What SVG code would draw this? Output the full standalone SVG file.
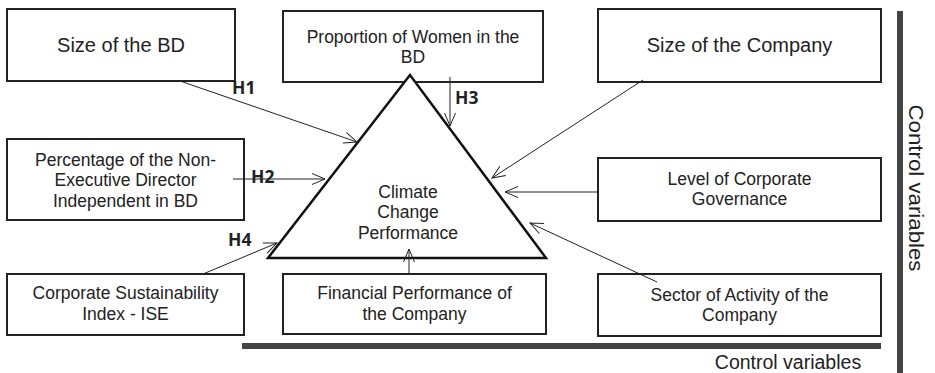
<svg xmlns="http://www.w3.org/2000/svg" width="935" height="373" viewBox="0 0 935 373">
<style>
.box{fill:#fff;stroke:#222;stroke-width:2}
.t{font-family:"Liberation Sans",Arial,sans-serif;font-size:17.5px;fill:#222;text-anchor:middle}
.big{font-size:20px}
.h{font-family:"Open Sans","Liberation Sans",sans-serif;font-weight:bold;font-size:17.5px;fill:#222}
.c{stroke:#222;stroke-width:1;fill:none}
</style>
<defs>
<marker id="a" markerUnits="userSpaceOnUse" markerWidth="16" markerHeight="14" viewBox="0 0 16 14" refX="14" refY="7" orient="auto">
<path d="M1,1.5 L14,7 L1,12.5" fill="none" stroke="#222" stroke-width="1"/>
</marker>
</defs>
<rect x="242" y="343" width="639" height="6" fill="#444"/>
<rect x="897" y="11" width="6" height="362" fill="#444"/>
<text class="t big" transform="translate(909,188) rotate(90)" textLength="167" lengthAdjust="spacingAndGlyphs">Control variables</text>
<text class="t" style="font-size:19.5px" x="788" y="369">Control variables</text>
<g id="n1"><rect class="box" x="7" y="9" width="228" height="72"/><text class="t big" x="121" y="52">Size of the BD</text></g>
<g id="n2"><rect class="box" x="283" y="11" width="260" height="71"/><text class="t" x="413" y="43">Proportion of Women in the</text><text class="t" x="413" y="63">BD</text></g>
<g id="n3"><rect class="box" x="598" y="9" width="283" height="73"/><text class="t big" x="739.5" y="52">Size of the Company</text></g>
<g id="n4"><rect class="box" x="7" y="139" width="237" height="81"/><text class="t" x="125.5" y="166">Percentage of the Non-</text><text class="t" x="125.5" y="186">Executive Director</text><text class="t" x="125.5" y="207">Independent in BD</text></g>
<g id="n5"><rect class="box" x="598" y="158" width="283" height="63"/><text class="t" x="739.5" y="185">Level of Corporate</text><text class="t" x="739.5" y="205">Governance</text></g>
<g id="n6"><rect class="box" x="7" y="274" width="237" height="61"/><text class="t" x="125.5" y="299">Corporate Sustainability</text><text class="t" x="125.5" y="320">Index - ISE</text></g>
<g id="n7"><rect class="box" x="283" y="274" width="263" height="60"/><text class="t" x="414.5" y="299">Financial Performance of</text><text class="t" x="414.5" y="320">the Company</text></g>
<g id="n8"><rect class="box" x="598" y="274" width="283" height="62"/><text class="t" x="739.5" y="301">Sector of Activity of the</text><text class="t" x="739.5" y="321">Company</text></g>
<g id="center"><polygon points="410,75 268,258 546,258" fill="#fff" stroke="#111" stroke-width="2.5" stroke-linejoin="miter"/><text class="t" x="408" y="198">Climate</text><text class="t" x="408" y="218">Change</text><text class="t" x="408" y="239">Performance</text></g>
<g id="connectors">
<line class="c" x1="180" y1="81" x2="357" y2="142" marker-end="url(#a)"/>
<line class="c" x1="233" y1="179" x2="325" y2="179" marker-end="url(#a)"/>
<line class="c" x1="450" y1="77" x2="450" y2="126" marker-end="url(#a)"/>
<line class="c" x1="203" y1="274" x2="277" y2="243" marker-end="url(#a)"/>
<line class="c" x1="409" y1="274" x2="409" y2="249" marker-end="url(#a)"/>
<line class="c" x1="643" y1="80" x2="492" y2="178" marker-end="url(#a)"/>
<line class="c" x1="598" y1="192" x2="505" y2="192" marker-end="url(#a)"/>
<line class="c" x1="657" y1="282" x2="530" y2="223" marker-end="url(#a)"/>
<text class="h" x="232" y="94">H1</text>
<text class="h" x="251" y="183">H2</text>
<text class="h" x="455" y="104">H3</text>
<text class="h" x="228" y="246">H4</text>
</g>
</svg>
